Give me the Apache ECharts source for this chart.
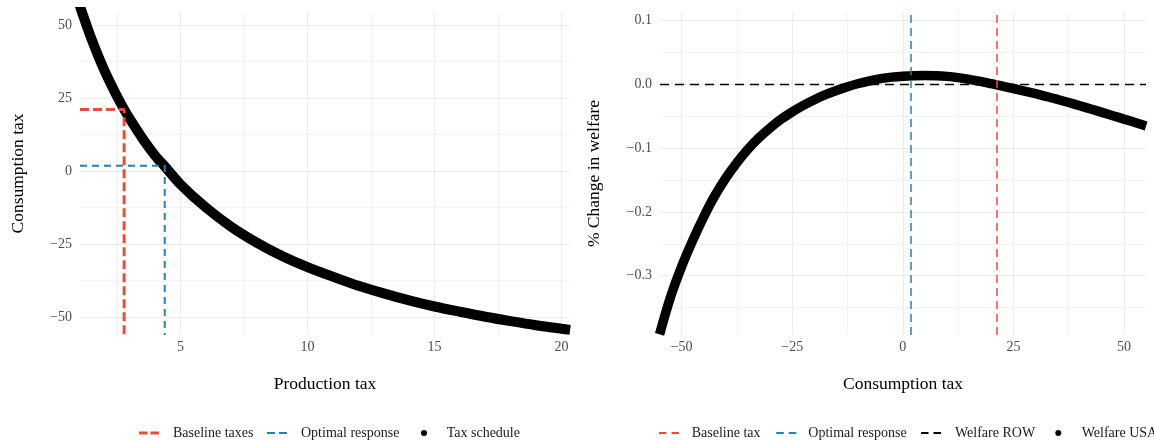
<!DOCTYPE html>
<html><head><meta charset="utf-8">
<script src="https://cdn.jsdelivr.net/npm/echarts@6/dist/echarts.min.js"></script>
<style>html,body{margin:0;padding:0;background:#fff}#c{width:1154px;height:440px}</style>
</head><body><div id="c"></div><script>
// ---------- Left panel data ----------
const prodTax = [1.0, 1.12, 1.5, 2.0, 2.5, 2.78, 3.0, 3.5, 4.0, 4.38, 5.0, 6.0, 7.0, 8.0, 9.0, 10.0, 11.0, 12.0, 13.0, 14.0, 15.0, 16.0, 17.0, 18.0, 19.0, 20.0, 20.34];
const consTax = [57.7, 54.4, 45.1, 34.5, 25.6, 21.1, 17.9, 11.2, 5.3, 1.6, -4.6, -12.5, -19.1, -24.5, -29.1, -32.9, -36.2, -39.3, -41.9, -44.3, -46.4, -48.2, -49.9, -51.4, -52.8, -54.0, -54.4];
const baselineTaxes = [2.78, 21.1];   // [production, consumption]
const optimalResponse = [4.38, 1.8];  // [production, consumption]
const leftX = [1.043, 20.335];
const leftY = [-56.16, 54.45];

// ---------- Right panel data ----------
const consTaxGrid = [-55, -52.5, -50, -47.5, -45, -42.5, -40, -37.5, -35, -32.5, -30, -27.5, -25, -22.5, -20, -17.5, -15, -12.5, -10, -7.5, -5, -2.5, 0, 2.5, 5, 7.5, 10, 12.5, 15, 17.5, 20, 22.5, 25, 27.5, 30, 32.5, 35, 37.5, 40, 42.5, 45, 47.5, 50, 52.5, 55];
const welfareUSA = [-0.392, -0.333, -0.2855, -0.2445, -0.2075, -0.1745, -0.1465, -0.1225, -0.1015, -0.0835, -0.068, -0.0545, -0.043, -0.0328, -0.0238, -0.016, -0.0094, -0.0035, 0.0015, 0.0058, 0.0092, 0.0115, 0.013, 0.0138, 0.014, 0.0138, 0.0127, 0.0107, 0.008, 0.0048, 0.0012, -0.0025, -0.0063, -0.0103, -0.0145, -0.0189, -0.0235, -0.0283, -0.0333, -0.0385, -0.0437, -0.049, -0.0543, -0.0596, -0.065];
const welfareROW = 0.0;
const baselineTax = 21.2;
const optimalTax = 1.8;
const rightX = [-54.9, 54.97];
const rightY = [-0.393, 0.1137];

const RED = '#E74C3C', BLUE = '#2980B9', FONT = 'Liberation Serif';
const minus = s => String(s).replace('-', '\u2212');

function axisBase(ext, step, fmt) {
  return {
    type: 'value', min: ext[0], max: ext[1], minInterval: step, maxInterval: step,
    axisLine: {show: false}, axisTick: {show: false},
    splitLine: {show: true, showMinLine: false, showMaxLine: false, lineStyle: {color: '#ebebeb', width: 1.1}},
    minorTick: {show: false, splitNumber: 2},
    minorSplitLine: {show: true, lineStyle: {color: '#ebebeb', width: 0.6}},
    axisLabel: {showMinLabel: false, showMaxLabel: false, color: '#4d4d4d', fontFamily: FONT, fontSize: 14, formatter: fmt},
    nameLocation: 'middle',
    nameTextStyle: {color: '#000', fontFamily: FONT, fontSize: 17.5}
  };
}

const xL = Object.assign(axisBase(leftX, 5, v => minus(v)), {gridIndex: 0, name: 'Production tax', nameGap: 40});
xL.axisLabel.margin = 5;
const yL = Object.assign(axisBase(leftY, 25, v => minus(v)), {gridIndex: 0, name: 'Consumption tax', nameGap: 53});
yL.axisLabel.margin = 8;
const xR = Object.assign(axisBase(rightX, 25, v => minus(v)), {gridIndex: 1, name: 'Consumption tax', nameGap: 40});
xR.axisLabel.margin = 5;
const yR = Object.assign(axisBase(rightY, 0.1, v => minus(v.toFixed(1))), {gridIndex: 1, name: '% Change in welfare', nameGap: 57});
yR.axisLabel.margin = 8;

const schedule = prodTax.map((p, i) => [p, consTax[i]]);
const usa = consTaxGrid.map((c, i) => [c, welfareUSA[i]]);

const dashL3 = 'path://M0,0h8.5v3h-8.5zM11.5,0h8.5v3h-8.5z';
const dashL2 = 'path://M0,0h8v2h-8zM12,0h8v2h-8z';
const dashR = 'path://M0,0h7.5v2h-7.5zM12.5,0h7.5v2h-7.5z';

function leg(name, icon, left, w, h, pad, color) {
  return {
    data: [{name: name, icon: icon, itemStyle: {color: color}}],
    left: left, top: 426, padding: 0, itemWidth: w, itemHeight: h, selectedMode: false,
    textStyle: {color: '#1a1a1a', fontFamily: FONT, fontSize: 14, padding: [0, 0, 0, pad]}
  };
}

function vmark(x, color) {
  return {silent: true, symbol: ['none', 'none'], label: {show: false}, animation: false,
    lineStyle: {color: color, width: 1.5, type: [8, 5]}, emphasis: {disabled: true},
    data: [{xAxis: x}]};
}

const option = {
  animation: false,
  backgroundColor: '#fff',
  textStyle: {fontFamily: FONT},
  grid: [
    {left: 80, top: 12, width: 490, height: 323},
    {left: 660, top: 12, width: 486, height: 323}
  ],
  xAxis: [xL, xR],
  yAxis: [yL, yR],
  legend: [
    leg('Baseline taxes', dashL3, 139, 20, 3, 9, RED),
    leg('Optimal response', dashL2, 267, 20, 2, 9, BLUE),
    leg('Tax schedule', 'circle', 421, 6, 6, 14.7, '#000'),
    leg('Baseline tax', dashR, 659, 20, 2, 7.7, RED),
    leg('Optimal response', dashR, 776.3, 20, 2, 7, BLUE),
    leg('Welfare ROW', dashR, 921, 20, 2, 9, '#000'),
    leg('Welfare USA', 'circle', 1055.3, 6, 6, 15.4, '#000')
  ],
  series: [
    {name: 'Tax schedule', type: 'line', xAxisIndex: 0, yAxisIndex: 0, data: schedule, smooth: 0.3,
     showSymbol: false, clip: true, z: 2, itemStyle: {color: '#000'},
     lineStyle: {color: '#000', width: 10}},
    {name: 'Baseline taxes', type: 'line', xAxisIndex: 0, yAxisIndex: 0, clip: true, z: 3,
     data: [[leftX[0], baselineTaxes[1]], baselineTaxes, [baselineTaxes[0], leftY[0]]],
     showSymbol: false, itemStyle: {color: RED}, lineStyle: {color: RED, width: 3, type: [9, 4]}},
    {name: 'Optimal response', type: 'line', xAxisIndex: 0, yAxisIndex: 0, clip: true, z: 3,
     data: [[leftX[0], optimalResponse[1]], optimalResponse, [optimalResponse[0], leftY[0]]],
     showSymbol: false, itemStyle: {color: BLUE}, lineStyle: {color: BLUE, width: 2, type: [7, 5]}},

    {name: 'Welfare ROW', type: 'line', xAxisIndex: 1, yAxisIndex: 1, clip: true, z: 2,
     data: [[rightX[0], welfareROW], [rightX[1], welfareROW]],
     showSymbol: false, itemStyle: {color: '#000'}, lineStyle: {color: '#000', width: 1.5, type: [9, 6]}},
    {name: 'Welfare USA', type: 'line', xAxisIndex: 1, yAxisIndex: 1, data: usa, smooth: 0.3,
     showSymbol: false, clip: true, z: 3, itemStyle: {color: '#000'},
     lineStyle: {color: '#000', width: 9.5}},
    {name: 'Baseline tax', type: 'line', xAxisIndex: 1, yAxisIndex: 1, data: [], z: 4,
     itemStyle: {color: RED}, lineStyle: {color: RED}, markLine: vmark(baselineTax, RED)},
    {name: 'Optimal response', type: 'line', xAxisIndex: 1, yAxisIndex: 1, data: [], z: 4,
     itemStyle: {color: BLUE}, lineStyle: {color: BLUE}, markLine: vmark(optimalTax, BLUE)}
  ]
};
echarts.init(document.getElementById('c'), null, {renderer: 'canvas'}).setOption(option);
</script></body></html>
